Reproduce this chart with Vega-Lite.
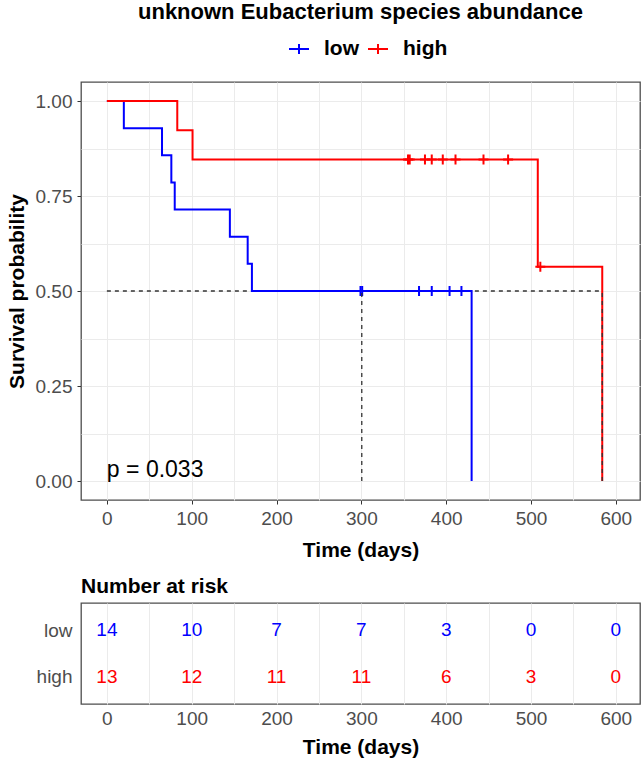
{
  "$schema": "https://vega.github.io/schema/vega-lite/v6.json",
  "padding": {"left": 5, "top": 0, "right": 3, "bottom": 3},
  "background": "white",
  "config": {
    "font": "Liberation Sans",
    "view": {"stroke": "#4D4D4D", "strokeWidth": 1.3},
    "axis": {
      "labelFont": "Liberation Sans", "labelFontSize": 19, "labelColor": "#4D4D4D",
      "titleFont": "Liberation Sans", "titleFontSize": 21, "titleFontWeight": "bold", "titleColor": "#000000",
      "tickColor": "#333333", "tickSize": 4, "labelPadding": 5,
      "gridColor": "#EBEBEB", "gridWidth": 1, "domain": false,
      "labelOverlap": false, "labelFlush": false
    },
    "title": {"font": "Liberation Sans", "color": "#000000"}
  },
  "spacing": 14,
  "resolve": {"scale": {"color": "independent"}, "legend": {"color": "independent"}},
  "vconcat": [
    {
      "width": 559,
      "height": 418,
      "title": {"text": "unknown Eubacterium species abundance", "fontSize": 22, "fontWeight": "bold", "anchor": "middle", "frame": "group", "offset": 14},
      "layer": [
        {
          "data": {"values": [{"x": 0, "x2": 584, "y": 0.5, "y2": 0.5}]},
          "mark": {"type": "rule", "strokeDash": [4, 4], "color": "#333333", "strokeWidth": 1.3},
          "encoding": {
            "x": {"field": "x", "type": "quantitative"},
            "x2": {"field": "x2"},
            "y": {"field": "y", "type": "quantitative"},
            "y2": {"field": "y2"}
          }
        },
        {
          "data": {"values": [
            {"time": 0, "surv": 1, "group": "low"},
            {"time": 20, "surv": 0.9286, "group": "low"},
            {"time": 65, "surv": 0.8571, "group": "low"},
            {"time": 76, "surv": 0.7857, "group": "low"},
            {"time": 80, "surv": 0.7143, "group": "low"},
            {"time": 145, "surv": 0.6429, "group": "low"},
            {"time": 166, "surv": 0.5714, "group": "low"},
            {"time": 171, "surv": 0.5, "group": "low"},
            {"time": 430, "surv": 0, "group": "low"},
            {"time": 0, "surv": 1, "group": "high"},
            {"time": 83, "surv": 0.9231, "group": "high"},
            {"time": 101, "surv": 0.8462, "group": "high"},
            {"time": 508, "surv": 0.5641, "group": "high"},
            {"time": 584, "surv": 0, "group": "high"}
          ]},
          "mark": {"type": "line", "interpolate": "step-after", "strokeWidth": 2},
          "encoding": {
            "x": {"field": "time", "type": "quantitative", "scale": {"domain": [-30.5, 628.5], "nice": false, "zero": false},
              "axis": {"title": "Time (days)", "values": [0, 50, 100, 150, 200, 250, 300, 350, 400, 450, 500, 550, 600],
                "labelExpr": "datum.value % 100 === 0 ? datum.label : ''",
                "tickOpacity": {"condition": {"test": "datum.value % 100 !== 0", "value": 0}, "value": 1},
                "titlePadding": 11}},
            "y": {"field": "surv", "type": "quantitative", "scale": {"domain": [-0.05, 1.05], "nice": false, "zero": false},
              "axis": {"title": "Survival probability", "values": [0, 0.125, 0.25, 0.375, 0.5, 0.625, 0.75, 0.875, 1], "format": ".2f",
                "labelExpr": "datum.value % 0.25 === 0 ? datum.label : ''",
                "tickOpacity": {"condition": {"test": "datum.value % 0.25 !== 0", "value": 0}, "value": 1},
                "titlePadding": 8}},
            "color": {"field": "group", "type": "nominal",
              "scale": {"domain": ["low", "high"], "range": ["#0000FF", "#FF0000"]},
              "legend": {"title": null, "orient": "none", "direction": "horizontal", "legendX": 207, "legendY": -44,
                "symbolType": "M-1,0L1,0M0,-0.5L0,0.5", "symbolSize": 400, "symbolStrokeWidth": 2,
                "labelFontSize": 21, "labelFontWeight": "bold", "labelColor": "#000000", "labelOffset": 14, "columnPadding": 5}}
          }
        },
        {
          "data": {"values": [
            {"time": 299, "surv": 0.5, "group": "low"},
            {"time": 301, "surv": 0.5, "group": "low"},
            {"time": 368, "surv": 0.5, "group": "low"},
            {"time": 383, "surv": 0.5, "group": "low"},
            {"time": 404, "surv": 0.5, "group": "low"},
            {"time": 418, "surv": 0.5, "group": "low"},
            {"time": 355, "surv": 0.8462, "group": "high"},
            {"time": 357, "surv": 0.8462, "group": "high"},
            {"time": 375, "surv": 0.8462, "group": "high"},
            {"time": 383, "surv": 0.8462, "group": "high"},
            {"time": 396, "surv": 0.8462, "group": "high"},
            {"time": 411, "surv": 0.8462, "group": "high"},
            {"time": 444, "surv": 0.8462, "group": "high"},
            {"time": 473, "surv": 0.8462, "group": "high"},
            {"time": 511, "surv": 0.5641, "group": "high"}
          ]},
          "mark": {"type": "point", "shape": "M-1,0L1,0M0,-1L0,1", "filled": false, "size": 100, "strokeWidth": 2, "opacity": 1},
          "encoding": {
            "x": {"field": "time", "type": "quantitative"},
            "y": {"field": "surv", "type": "quantitative"},
            "color": {"field": "group", "type": "nominal"}
          }
        },
        {
          "data": {"values": [
            {"x": 300.5, "x2": 300.5, "y": 0, "y2": 0.5},
            {"x": 584, "x2": 584, "y": 0, "y2": 0.5}
          ]},
          "mark": {"type": "rule", "strokeDash": [4, 4], "color": "#333333", "strokeWidth": 1.3},
          "encoding": {
            "x": {"field": "x", "type": "quantitative"},
            "x2": {"field": "x2"},
            "y": {"field": "y", "type": "quantitative"},
            "y2": {"field": "y2"}
          }
        },
        {
          "data": {"values": [{"x": 0, "y": 0.03, "label": "p = 0.033"}]},
          "mark": {"type": "text", "align": "left", "baseline": "middle", "fontSize": 23, "color": "#000000"},
          "encoding": {
            "x": {"field": "x", "type": "quantitative"},
            "y": {"field": "y", "type": "quantitative"},
            "text": {"field": "label"}
          }
        }
      ]
    },
    {
      "width": 559,
      "height": 101,
      "title": {"text": "Number at risk", "fontSize": 21, "fontWeight": "bold", "anchor": "start", "frame": "group", "offset": 6},
      "data": {"values": [
        {"time": 0, "group": "low", "n": 14},
        {"time": 100, "group": "low", "n": 10},
        {"time": 200, "group": "low", "n": 7},
        {"time": 300, "group": "low", "n": 7},
        {"time": 400, "group": "low", "n": 3},
        {"time": 500, "group": "low", "n": 0},
        {"time": 600, "group": "low", "n": 0},
        {"time": 0, "group": "high", "n": 13},
        {"time": 100, "group": "high", "n": 12},
        {"time": 200, "group": "high", "n": 11},
        {"time": 300, "group": "high", "n": 11},
        {"time": 400, "group": "high", "n": 6},
        {"time": 500, "group": "high", "n": 3},
        {"time": 600, "group": "high", "n": 0}
      ]},
      "mark": {"type": "text", "fontSize": 19, "baseline": "middle", "align": "center"},
      "encoding": {
        "x": {"field": "time", "type": "quantitative", "scale": {"domain": [-30.5, 628.5], "nice": false, "zero": false},
          "axis": {"title": "Time (days)", "values": [0, 50, 100, 150, 200, 250, 300, 350, 400, 450, 500, 550, 600],
            "labelExpr": "datum.value % 100 === 0 ? datum.label : ''", "ticks": false, "labelPadding": 5, "titlePadding": 8}},
        "y": {"field": "group", "type": "nominal",
          "scale": {"type": "point", "domain": ["low", "high"], "padding": 0.59},
          "axis": {"title": null, "ticks": false, "labelPadding": 9}},
        "color": {"field": "group", "type": "nominal", "scale": {"domain": ["low", "high"], "range": ["#0000FF", "#FF0000"]}, "legend": null},
        "text": {"field": "n", "type": "quantitative"}
      }
    }
  ]
}
